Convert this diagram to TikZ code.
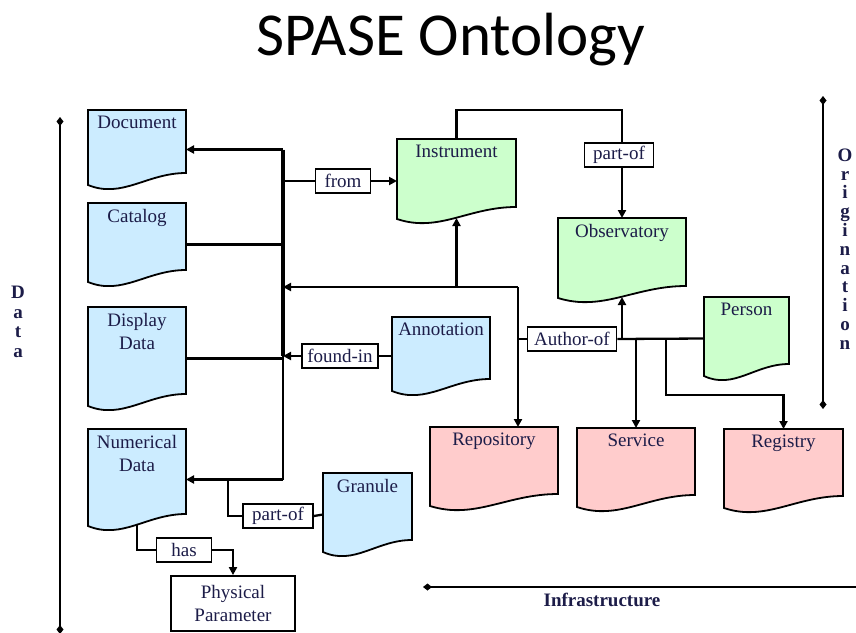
\documentclass[tikz,border=0pt]{standalone}
\usepackage{fontspec}
\setmainfont{Liberation Serif}
\newfontfamily\titlefont{Carlito}
\usetikzlibrary{arrows.meta,positioning,calc}

\definecolor{docblue}{RGB}{204,236,255}
\definecolor{docgreen}{RGB}{204,255,204}
\definecolor{docpink}{RGB}{255,204,204}
\definecolor{inkcol}{RGB}{28,28,72}

\newcommand{\docfont}{\fontsize{19}{23}\selectfont}
\newcommand{\axisfont}{\fontsize{19}{19.5}\selectfont\bfseries}
% document box: name, centre, width, height, fill, text
\newcommand{\docbox}[6]{%
  \node[docarea, minimum width=#3pt, minimum height=#4pt] (#1) at (#2) {};
  \draw[docline, fill=#5] (#1.north west) -- (#1.north east)
    -- ($(#1.south east)+(0pt,16pt)$)
    .. controls ($(#1.south east)!0.4!(#1.south west)+(0pt,16pt)$)
    and ($(#1.south west)!0.35!(#1.south east)+(0pt,-10pt)$)
    .. ($(#1.south west)+(0pt,4pt)$) -- cycle;
  \node[doctext] (#1-t) at ([yshift=-3pt]#1.north) {#6};
}

\begin{document}
\begin{tikzpicture}[x=1pt,y=-1pt,
  docarea/.style={inner sep=0pt, outer sep=0pt},
  docline/.style={line width=1.8pt},
  doctext/.style={anchor=north, inner sep=3pt, align=center, font=\docfont, text=inkcol},
  relbox/.style={draw, line width=1.8pt, fill=white, inner xsep=5pt, inner ysep=1pt,
    minimum height=24pt, font=\docfont, text=inkcol},
  link/.style={line width=2.3pt},
  arr/.style={link, -{Triangle[length=8pt,width=8pt]}},
  axis/.style={line width=2.3pt},
  axislabel/.style={font=\axisfont, text=inkcol, align=center, inner sep=0pt}]
  \useasboundingbox (0,0) rectangle (856,632);

  % title
  \node[anchor=base, font=\titlefont\fontsize{61}{70}\selectfont] (title) at (451,55) {SPASE Ontology};

  % data products
  \docbox{doc}{137,149.5}{98}{79}{docblue}{Document}
  \docbox{cat}{137,244.5}{98}{83}{docblue}{Catalog}
  \docbox{disp}{137,358.5}{98}{103}{docblue}{Display\\Data}
  \docbox{num}{137,479.5}{98}{101}{docblue}{Numerical\\Data}
  \docbox{annot}{441,356}{98}{78}{docblue}{Annotation}
  \docbox{gran}{367.5,514.5}{89}{83}{docblue}{Granule}
  % origination
  \docbox{instr}{456.5,181}{119}{84}{docgreen}{Instrument}
  \docbox{obs}{622,260}{128}{84}{docgreen}{Observatory}
  \docbox{person}{746.5,338.5}{85}{83}{docgreen}{Person}
  % infrastructure
  \docbox{repo}{494,468.5}{128}{83}{docpink}{Repository}
  \docbox{serv}{636,469.5}{118}{83}{docpink}{Service}
  \docbox{reg}{783.5,470.5}{119}{83}{docpink}{Registry}

  \node[draw, line width=1.8pt, minimum width=124pt, minimum height=55pt, inner sep=0pt,
    align=center, font=\docfont, text=inkcol] (phys) at (233,603.5) {Physical\\Parameter};

  % relation labels
  \node[relbox, minimum width=55pt] (from) at (343,181) {from};
  \node[relbox, minimum width=69pt] (partofA) at (619,155) {part-of};
  \node[relbox, minimum width=75pt] (foundin) at (340,356) {found-in};
  \node[relbox, minimum width=89pt] (author) at (572,339) {Author-of};
  \node[relbox, minimum width=70pt] (partofB) at (278,516) {part-of};
  \node[relbox, minimum width=55pt] (has) at (184,550) {has};

  % junction points
  \coordinate (bus) at (283,0);
  \coordinate (jA) at (518,287);
  \coordinate (topR) at (622,110);
  \coordinate (jR) at (666,339);
  \coordinate (bendR) at (666,395);
  \coordinate (jN) at (228,0);

  % bus on the data side
  \draw[link] (bus |- doc.east) -- (bus |- num.east);
  \draw[link, line width=3.2pt] (bus |- doc.east) -- (bus |- foundin.west);
  \draw[arr] (bus |- doc.east) -- (doc.east);
  \draw[link] (cat.east) -- (bus |- cat.east);
  \draw[link] (disp.east) -- (bus |- disp.east);
  \draw[arr] (bus |- num.east) -- (num.east);
  \draw[link] (bus |- from.west) -- (from.west);
  \draw[arr] (from.east) -- (instr.west);
  \draw[link] (annot.west) -- (foundin.east);
  \draw[arr] (foundin.west) -- (bus |- foundin.west);

  % instrument / observatory
  \draw[link] (instr.north) |- (topR) -- (topR |- partofA.north);
  \draw[arr] (topR |- partofA.south) -- (obs.north);
  \draw[arr] (jA) -- (bus |- jA);
  \draw[arr] (instr.south |- jA) -- ($(instr.south)+(0pt,5pt)$);
  \draw[arr] (jA) -- (jA |- repo.north);
  \draw[link] (author.west) -- (jA |- author.west);

  % person and author-of
  \draw[link] (person.west) -- (author.east);
  \draw[arr] (obs.south |- author.east) -- ($(obs.south)+(0pt,5pt)$);
  \draw[arr] (serv.north |- author.east) -- (serv.north);
  \draw[arr] (jR) -- (bendR) -| (reg.north);

  % granule and physical parameter
  \draw[link] (jN |- num.east) |- (partofB.west);
  \draw[link] (partofB.east) -- (gran.west);
  \draw[link] ($(num.south)+(0pt,5pt)$) |- (has.west);
  \draw[arr] (has.east) -| (phys.north);

  % axes
  \coordinate (dataTop) at (60,117);
  \coordinate (dataBot) at (60,634);
  \coordinate (origTop) at (823,96);
  \coordinate (origBot) at (823,409);
  \coordinate (infraL) at (423,587);
  \coordinate (infraR) at (860,587);
  \draw[axis, {Diamond[length=9pt,width=7pt]}-{Diamond[length=9pt,width=7pt]}] (dataTop) -- (dataBot);
  \draw[axis, {Diamond[length=9pt,width=7pt]}-{Diamond[length=9pt,width=7pt]}] (origTop) -- (origBot);
  \draw[axis, {Diamond[length=9pt,width=7pt]}-] (infraL) -- (infraR);
  \node[axislabel] (dataLbl) at (18,322) {D\\a\\t\\a};
  \node[axislabel, font=\fontsize{19}{18.8}\selectfont\bfseries] (origLbl) at (845,249) {O\\r\\i\\g\\i\\n\\a\\t\\i\\o\\n};
  \node[axislabel] (infraLbl) at (602,600) {Infrastructure};
\end{tikzpicture}
\end{document}
